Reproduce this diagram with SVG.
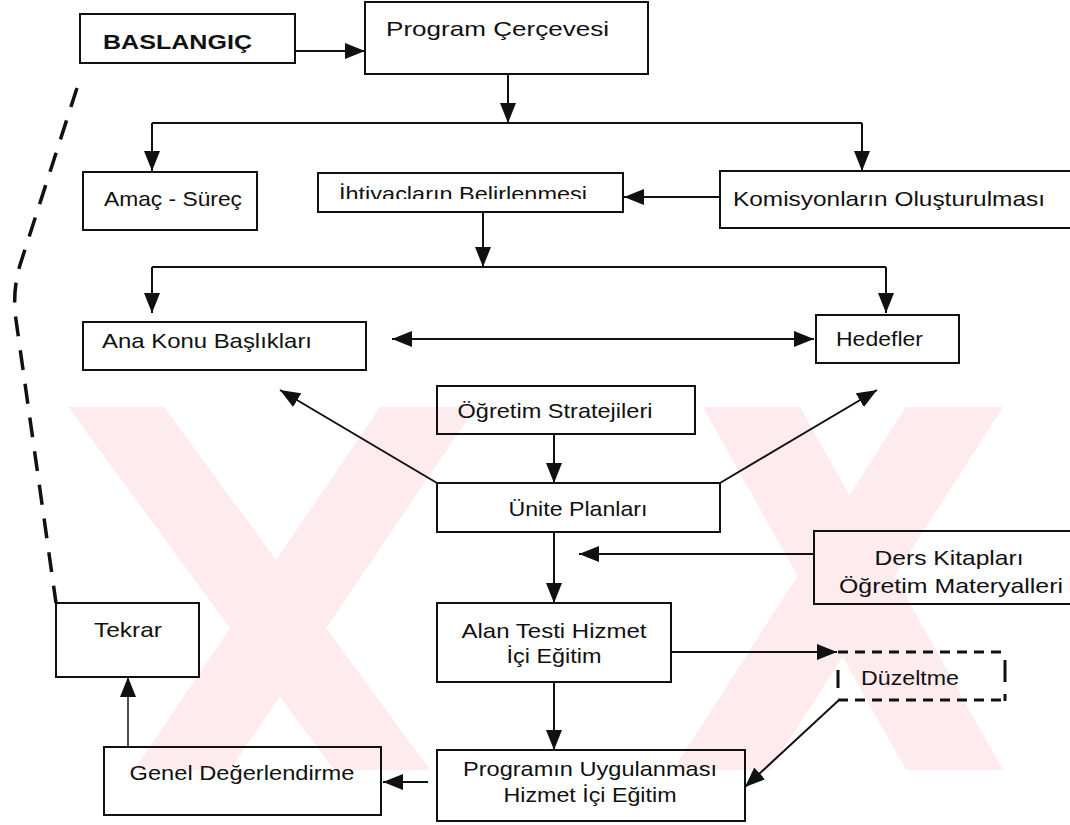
<svg xmlns="http://www.w3.org/2000/svg" width="1070" height="825" viewBox="0 0 1070 825">
  <defs>
    <marker id="arrow" markerUnits="userSpaceOnUse" markerWidth="20" markerHeight="16" refX="20" refY="8" orient="auto-start-reverse">
      <path d="M0,0 L20,8 L0,16 z" fill="#111"/>
    </marker>
    <clipPath id="clipIhtiyac">
      <rect x="318" y="170" width="306" height="29"/>
    </clipPath>
    <style>
      .box { fill: none; stroke: #111; stroke-width: 2; }
      .dash { fill: none; stroke: #111; stroke-width: 3; stroke-dasharray: 10 7; }
      .lbl { font-family: "Liberation Sans", Arial, sans-serif; font-size: 21px; fill: #111; }
      .mid { text-anchor: middle; }
      .bold { font-weight: bold; }
      .link { fill: none; stroke: #111; stroke-width: 2; }
      .arr { marker-end: url(#arrow); }
      .wm { fill: #fdebed; }
    </style>
  </defs>

  <rect width="1070" height="825" fill="#fff"/>

  <!-- pale background emblem -->
  <g id="watermark">
    <polygon class="wm" points="68,407 164,407 430,770 334,770"/>
    <polygon class="wm" points="380,407 476,407 230,770 134,770"/>
    <polygon class="wm" points="703,407 800,407 1003,770 906,770"/>
    <polygon class="wm" points="906,407 1003,407 770,770 673,770"/>
  </g>

  <g id="connectors">
    <path class="link arr" d="M295 51 H365"/>
    <path class="link arr" d="M508 74 V123"/>
    <path class="link" d="M152 123 H862"/>
    <path class="link arr" d="M152 123 V171"/>
    <path class="link arr" d="M862 123 V171"/>
    <path class="link arr" d="M720 197 H624"/>
    <path class="link arr" d="M483 212 V267"/>
    <path class="link" d="M152 267 H886"/>
    <path class="link arr" d="M152 267 V313"/>
    <path class="link arr" d="M886 267 V313"/>
    <path class="link arr" d="M392 339 H814" marker-start="url(#arrow)"/>
    <path class="link arr" d="M554 434 V483"/>
    <path class="link arr" d="M437 483 L280 390"/>
    <path class="link arr" d="M720 483 L877 390"/>
    <path class="link arr" d="M554 532 V603"/>
    <path class="link arr" d="M814 554 H579"/>
    <path class="link arr" d="M671 652 H837"/>
    <path class="link arr" d="M554 682 V750"/>
    <path class="link arr" d="M839 700 L745 787"/>
    <path class="link arr" d="M428 782 H383"/>
    <path class="link arr" d="M128 747 V677" style="stroke-width:1.5"/>
    <path d="M77 88 L20 265 Q12 292 16 320 L56 603" fill="none" stroke="#111" stroke-width="3.5" stroke-dasharray="20 14"/>
  </g>

  <g id="baslangic">
    <rect class="box" x="80" y="14" width="215" height="49"/>
    <text class="lbl bold" x="103" y="49" textLength="149" lengthAdjust="spacingAndGlyphs">BASLANGIÇ</text>
  </g>

  <g id="program-cercevesi">
    <rect class="box" x="365" y="2" width="283" height="72"/>
    <text class="lbl" x="386" y="36" textLength="223" lengthAdjust="spacingAndGlyphs">Program Çerçevesi</text>
  </g>

  <g id="amac-surec">
    <rect class="box" x="83" y="172" width="174" height="58"/>
    <text class="lbl" x="104" y="206" textLength="138" lengthAdjust="spacingAndGlyphs">Amaç - Süreç</text>
  </g>

  <g id="ihtiyaclar">
    <rect class="box" x="318" y="173" width="305" height="39"/>
    <text class="lbl" x="339" y="201" textLength="248" lengthAdjust="spacingAndGlyphs" clip-path="url(#clipIhtiyac)">İhtiyaçların Belirlenmesi</text>
  </g>

  <g id="komisyonlar">
    <rect class="box" x="720" y="171" width="360" height="57"/>
    <text class="lbl" x="733" y="206" textLength="312" lengthAdjust="spacingAndGlyphs">Komisyonların Oluşturulması</text>
  </g>

  <g id="ana-konu">
    <rect class="box" x="83" y="322" width="283" height="48"/>
    <text class="lbl" x="102" y="348" textLength="210" lengthAdjust="spacingAndGlyphs">Ana Konu Başlıkları</text>
  </g>

  <g id="hedefler">
    <rect class="box" x="816" y="315" width="143" height="48"/>
    <text class="lbl" x="836" y="346" textLength="87" lengthAdjust="spacingAndGlyphs">Hedefler</text>
  </g>

  <g id="ogretim-stratejileri">
    <rect class="box" x="437" y="386" width="258" height="48"/>
    <text class="lbl mid" x="555" y="418" textLength="195" lengthAdjust="spacingAndGlyphs">Öğretim Stratejileri</text>
  </g>

  <g id="unite-planlari">
    <rect class="box" x="437" y="483" width="283" height="49"/>
    <text class="lbl mid" x="578" y="516" textLength="139" lengthAdjust="spacingAndGlyphs">Ünite Planları</text>
  </g>

  <g id="ders-kitaplari">
    <rect class="box" x="814" y="531" width="270" height="73"/>
    <text class="lbl mid" x="949" y="565" textLength="149" lengthAdjust="spacingAndGlyphs">Ders Kitapları</text>
    <text class="lbl mid" x="951" y="593" textLength="224" lengthAdjust="spacingAndGlyphs">Öğretim Materyalleri</text>
  </g>

  <g id="alan-testi">
    <rect class="box" x="437" y="603" width="234" height="79"/>
    <text class="lbl mid" x="554" y="638" textLength="185" lengthAdjust="spacingAndGlyphs">Alan Testi Hizmet</text>
    <text class="lbl mid" x="554" y="663" textLength="95" lengthAdjust="spacingAndGlyphs">İçi Eğitim</text>
  </g>

  <g id="duzeltme">
    <path class="dash" d="M838 652 H1006"/>
    <path class="dash" d="M838 700 H1006"/>
    <path d="M838 670 V688 M1005 660 V682 M1005 694 V701" stroke="#111" stroke-width="3" fill="none"/>
    <text class="lbl" x="861" y="685" textLength="98" lengthAdjust="spacingAndGlyphs">Düzeltme</text>
  </g>

  <g id="programin-uygulanmasi">
    <rect class="box" x="437" y="750" width="308" height="71"/>
    <text class="lbl mid" x="590" y="776" textLength="254" lengthAdjust="spacingAndGlyphs">Programın Uygulanması</text>
    <text class="lbl mid" x="590" y="802" textLength="173" lengthAdjust="spacingAndGlyphs">Hizmet İçi Eğitim</text>
  </g>

  <g id="genel-degerlendirme">
    <rect class="box" x="104" y="747" width="277" height="68"/>
    <text class="lbl mid" x="242" y="780" textLength="225" lengthAdjust="spacingAndGlyphs">Genel Değerlendirme</text>
  </g>

  <g id="tekrar">
    <rect class="box" x="56" y="603" width="143" height="74"/>
    <text class="lbl mid" x="128" y="637" textLength="68" lengthAdjust="spacingAndGlyphs">Tekrar</text>
  </g>
</svg>
